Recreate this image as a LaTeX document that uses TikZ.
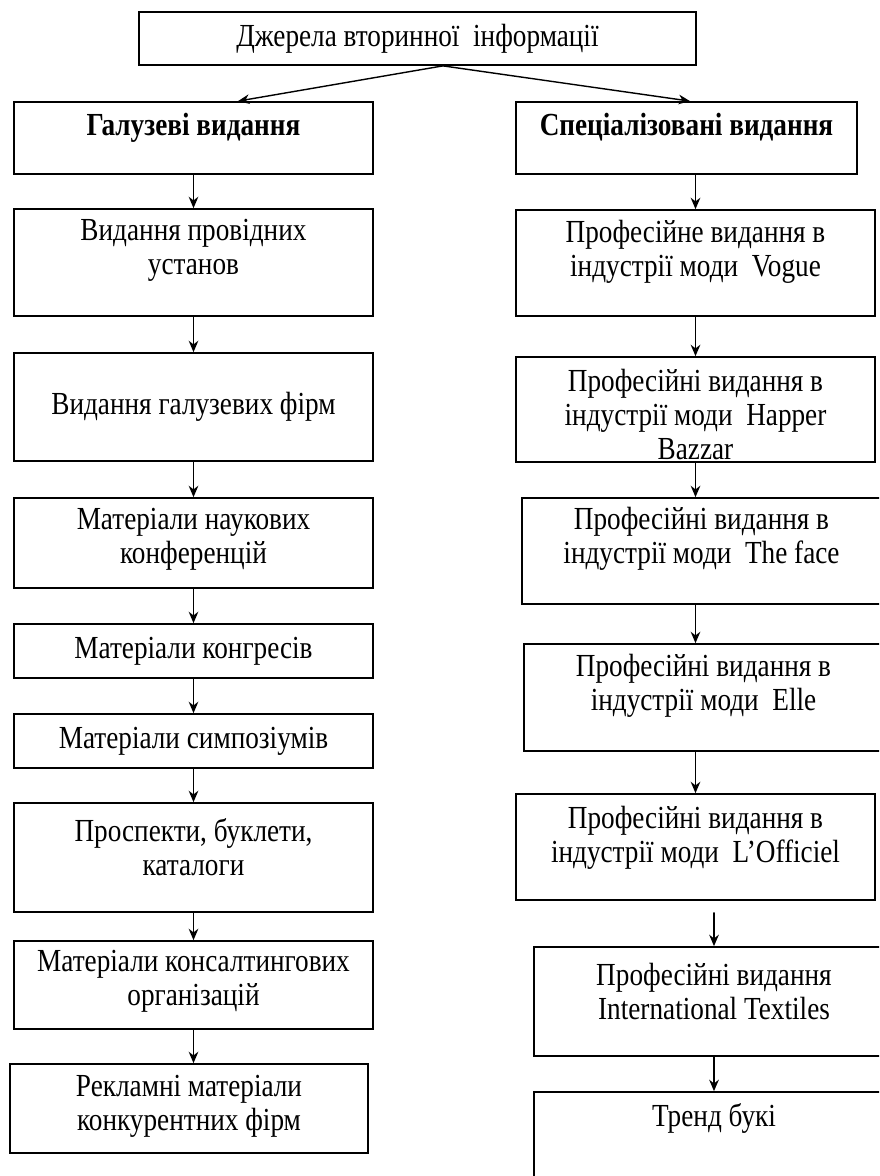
\documentclass[tikz,border=0pt]{standalone}
\usepackage{fontspec}
\setmainfont{Liberation Serif}
\usetikzlibrary{arrows.meta}

\tikzset{
  box/.style={draw, line width=1pt, inner sep=0pt, minimum width=7.18cm},
  txt/.style={align=center, yscale=1.18, font=\fontsize{15.5}{16.4}\selectfont},
  arr/.style={-{Stealth[length=6.5pt, width=5.5pt]}, line width=0.8pt},
}

\begin{document}
\begin{tikzpicture}[x=0.02cm, y=-0.02cm, line cap=round]
  \useasboundingbox (0,0) rectangle (879,1176);
  \clip (0,0) rectangle (879,1176);
  % top
  \node[box, minimum width=11.14cm, minimum height=1.06cm, label={[txt]center:Джерела вторинної~ інформації}] (src) at (417.5,38.5) {};
  \coordinate (fork) at ([xshift=0.51cm]src.south);

  % left column
  \node[box, minimum height=1.44cm, label={[txt, yshift=0.18cm]center:\textbf{Галузеві видання}}] (l1) at (193.5,138) {};
  \node[box, minimum height=2.14cm, label={[txt, yshift=0.2cm]center:{Видання провідних\\установ}}] (l2) at (193.5,262.5) {};
  \node[box, minimum height=2.16cm, label={[txt]center:Видання галузевих фірм}] (l3) at (193.5,407) {};
  \node[box, minimum height=1.8cm, label={[txt, yshift=0.06cm]center:{Матеріали наукових\\конференцій}}] (l4) at (193.5,543) {};
  \node[box, minimum height=1.08cm, label={[txt]center:Матеріали конгресів}] (l5) at (193.5,651) {};
  \node[box, minimum height=1.08cm, label={[txt]center:Матеріали симпозіумів}] (l6) at (193.5,741) {};
  \node[box, minimum height=2.18cm, label={[txt, yshift=0.18cm]center:{Проспекти, буклети,\\каталоги}}] (l7) at (193.5,857.5) {};
  \node[box, minimum height=1.76cm, label={[txt, yshift=0.06cm]center:{Матеріали консалтингових\\організацій}}] (l8) at (193.5,985) {};
  \node[box, minimum width=7.16cm, minimum height=1.78cm, label={[txt, yshift=0.03cm]center:{Рекламні матеріали\\конкурентних фірм}}] (l9) at (189,1108.5) {};

  % right column
  \node[box, minimum width=6.82cm, minimum height=1.44cm, label={[txt, yshift=0.18cm]center:\textbf{Спеціалізовані видання}}] (r1) at (686.5,138) {};
  \node[box, minimum height=2.12cm, label={[txt, yshift=0.19cm]center:{Професійне видання в\\індустрії моди~ Vogue}}] (r2) at (695.5,263) {};
  \node[box, minimum height=2.1cm, label={[txt, yshift=-0.09cm]center:{Професійні видання в\\індустрії моди~ Happer\\Bazzar}}] (r3) at (695.5,409.5) {};
  \node[box, minimum height=2.12cm, label={[txt, yshift=0.2cm]center:{Професійні видання в\\індустрії моди~ The face}}] (r4) at (701.5,551) {};
  \node[box, minimum height=2.14cm, label={[txt, yshift=0.19cm]center:{Професійні видання в\\індустрії моди~ Elle}}] (r5) at (703.5,697.5) {};
  \node[box, minimum height=2.12cm, label={[txt, yshift=0.15cm]center:{Професійні видання в\\індустрії моди~ L’Officiel}}] (r6) at (695.5,847) {};
  \node[box, minimum width=7.2cm, minimum height=2.18cm, label={[txt, yshift=0.17cm]center:{Професійні видання\\International Textiles}}] (r7) at (714,1001.5) {};
  \node[box, minimum width=7.2cm, minimum height=2.16cm, label={[txt, yshift=0.46cm]center:Тренд букі}] (r8) at (714,1146) {};

  % arrows
  \draw[arr] (fork) -- ([xshift=0.89cm]l1.north);
  \draw[arr] (fork) -- ([xshift=0.07cm]r1.north);
  \draw[arr] (l1.south) -- (l2.north);
  \draw[arr] (l2.south) -- (l3.north);
  \draw[arr] (l3.south) -- (l4.north);
  \draw[arr] (l4.south) -- (l5.north);
  \draw[arr] (l5.south) -- (l6.north);
  \draw[arr] (l6.south) -- (l7.north);
  \draw[arr] (l7.south) -- (l8.north);
  \draw[arr] (l8.south) -- (l8.south |- l9.north);
  \draw[arr] (r2.north |- r1.south) -- (r2.north);
  \draw[arr] (r2.south) -- (r3.north);
  \draw[arr] (r3.south) -- (r3.south |- r4.north);
  \draw[arr] (r2.north |- r4.south) -- (r2.north |- r5.north);
  \draw[arr] (r6.north |- r5.south) -- (r6.north);
  \draw[arr] ([yshift=-0.24cm]r6.south -| r7.north) -- (r7.north);
  \draw[arr] (r7.south) -- (r8.north);
\end{tikzpicture}
\end{document}
